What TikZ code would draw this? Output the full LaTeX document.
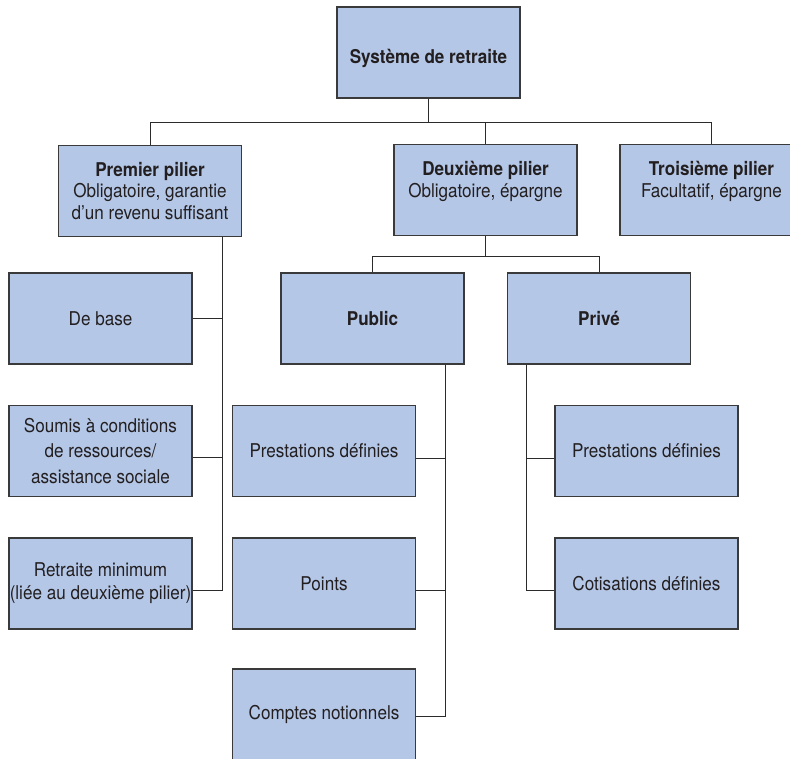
\documentclass[tikz,border=0pt]{standalone}
\usepackage{fontspec}
\setmainfont{TeX Gyre Heros}[FakeStretch=0.9]
\definecolor{boxfill}{HTML}{B4C7E7}
\definecolor{boxline}{HTML}{3A3A3A}
\definecolor{txt}{HTML}{231F20}
\definecolor{connc}{HTML}{2B2B2B}
\tikzset{
  box/.style={draw=boxline, fill=boxfill, line width=1.1pt, minimum width=183pt,
    minimum height=91pt, inner sep=0pt, align=center, text=txt,
    font=\fontsize{19}{21.7}\selectfont},
  conn/.style={draw=connc, line width=0.9pt}
}
\begin{document}
\begin{tikzpicture}[x=1pt,y=-1pt]
\useasboundingbox (0,0) rectangle (790,758);
\clip (0,0) rectangle (790,758);
\fill[white] (0,0) rectangle (790,758);
% boxes
\node[box, text height=24pt, text depth=1.4pt] (sys) at (428.5,52.5) {\textbf{Système de retraite}};
\node[box] (p1) at (150,191) {\textbf{Premier pilier}\\Obligatoire, garantie\\d’un revenu suffisant};
\node[box] (p2) at (485.5,190) {\textbf{Deuxième pilier}\\Obligatoire, épargne\\\mbox{}};
\node[box] (p3) at (711.5,190) {\textbf{Troisième pilier}\\Facultatif, épargne\\\mbox{}};
\node[box] (base) at (100.5,318.5) {De base};
\node[box] (soumis) at (100.5,451) {Soumis à conditions\\[4pt]de ressources/\\[4pt]assistance sociale};
\node[box] (retraite) at (100.5,583.5) {Retraite minimum\\[1.5pt](liée au deuxième pilier)};
\node[box] (public) at (372.5,318.5) {\textbf{Public}};
\node[box] (prive) at (599,318.5) {\textbf{Privé}};
\node[box] (pubpd) at (324,451) {Prestations définies};
\node[box] (points) at (324,583.5) {Points};
\node[box] (comptes) at (324,714.5) {Comptes notionnels};
\node[box] (privpd) at (646.5,451) {Prestations définies};
\node[box] (cotis) at (646.5,583.5) {Cotisations définies};
% top level
\coordinate (bus1) at (0,122);
\draw[conn] (sys.south) -- (sys.south |- bus1);
\draw[conn] (p1.north) |- (p3.north |- bus1) -- (p3.north);
\draw[conn] (p2.north) -- (p2.north |- bus1);
% second pillar
\coordinate (bus2) at (0,256);
\draw[conn] (p2.south) -- (p2.south |- bus2);
\draw[conn] (public.north) |- (prive.north |- bus2) -- (prive.north);
% first pillar spine
\coordinate (sp1) at (222,590);
\coordinate (j1) at (222,318);
\coordinate (j2) at (222,457);
\draw[conn] (p1.south -| sp1) -- (sp1) -- (sp1 -| retraite.east);
\draw[conn] (j1) -- (j1 -| base.east);
\draw[conn] (j2) -- (j2 -| soumis.east);
% public spine
\coordinate (sp2) at (445,716);
\coordinate (j3) at (445,458);
\coordinate (j4) at (445,590);
\draw[conn] (public.south -| sp2) -- (sp2) -- (sp2 -| comptes.east);
\draw[conn] (j3) -- (j3 -| pubpd.east);
\draw[conn] (j4) -- (j4 -| points.east);
% private spine
\coordinate (sp3) at (526,590);
\coordinate (j5) at (526,458);
\draw[conn] (prive.south -| sp3) -- (sp3) -- (sp3 -| cotis.west);
\draw[conn] (j5) -- (j5 -| privpd.west);
\end{tikzpicture}
\end{document}
